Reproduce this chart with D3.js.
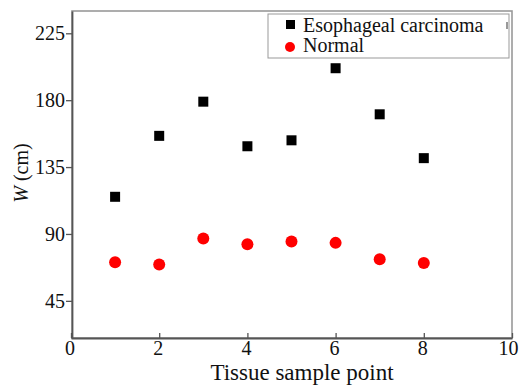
<!DOCTYPE html>
<html><head><meta charset="utf-8">
<script src="https://cdn.jsdelivr.net/npm/d3@7"></script>
<style>body{margin:0;background:#fff}</style>
</head><body><svg id="c" width="519" height="385"></svg>
<script>
const samplePoints = [1, 2, 3, 4, 5, 6, 7, 8];
const carcinoma = [115, 156, 179, 149, 153, 201.5, 170.5, 141];
const normal = [71, 69.5, 87, 83, 85, 84, 73, 70.5];
const xTicks = [0, 2, 4, 6, 8, 10];
const yTicks = [45, 90, 135, 180, 225];
const seriesNames = ["Esophageal carcinoma", "Normal"];

const FONT = "'Liberation Serif'";
const svg = d3.select("#c");
const L = 72, R = 512, T = 11, B = 338;
const x = d3.scaleLinear().domain([0, 10]).range([71, 512]);
const y = d3.scaleLinear().domain([20, 240]).range([B, T]);

function styleText(sel, size) {
  sel.attr("font-family", null).style("font-family", FONT).style("font-size", size + "px").style("fill", "#111");
  return sel;
}

// frame
svg.append("rect").attr("x", L).attr("y", T).attr("width", R - L).attr("height", B - T)
  .attr("fill", "none").attr("stroke", "#999").attr("stroke-width", 1.6);

// x axis (ticks inward)
const gx = svg.append("g").attr("transform", `translate(0,${B})`)
  .call(d3.axisBottom(x).tickValues(xTicks).tickSize(-5).tickPadding(3).tickSizeOuter(0));
gx.attr("font-family", null).attr("font-size", null);
gx.select(".domain").attr("stroke", "#555").attr("stroke-width", 1.8);
gx.selectAll(".tick line").attr("stroke", "#555").attr("stroke-width", 1.3);
styleText(gx.selectAll("text"), 20).attr("dx", d => d === 10 ? -4 : -1.5);

// y axis (ticks outward)
const gy = svg.append("g").attr("transform", `translate(${L},0)`)
  .call(d3.axisLeft(y).tickValues(yTicks).tickSize(6).tickPadding(1).tickSizeOuter(0));
gy.attr("font-family", null).attr("font-size", null);
gy.select(".domain").attr("stroke", "#555").attr("stroke-width", 1.8);
gy.selectAll(".tick line").attr("stroke", "#555").attr("stroke-width", 1.3);
styleText(gy.selectAll("text"), 20);

// titles
styleText(svg.append("text").attr("x", 302).attr("y", 380).attr("text-anchor", "middle")
  .text("Tissue sample point"), 23);
const yt = svg.append("text").attr("transform", "translate(28,173) rotate(-90)")
  .attr("text-anchor", "middle");
styleText(yt, 20);
yt.append("tspan").style("font-style", "italic").text("W");
yt.append("tspan").text(" (cm)");

// data
svg.append("g").selectAll("rect").data(samplePoints.map((p, i) => [p, carcinoma[i]])).join("rect")
  .attr("x", d => x(d[0]) - 5).attr("y", d => y(d[1]) - 5).attr("width", 10).attr("height", 10)
  .attr("fill", "#000");
svg.append("g").selectAll("circle").data(samplePoints.map((p, i) => [p, normal[i]])).join("circle")
  .attr("cx", d => x(d[0])).attr("cy", d => y(d[1])).attr("r", 6).attr("fill", "#f00");

// legend
const lg = svg.append("g");
lg.append("rect").attr("x", 268).attr("y", 14).attr("width", 241).attr("height", 44)
  .attr("fill", "#fff").attr("stroke", "#999").attr("stroke-width", 1);
lg.append("rect").attr("x", 286).attr("y", 20).attr("width", 9).attr("height", 9).attr("fill", "#000");
lg.append("circle").attr("cx", 290).attr("cy", 47).attr("r", 5).attr("fill", "#f00");
styleText(lg.append("text").attr("x", 303).attr("y", 32).text(seriesNames[0]), 20);
styleText(lg.append("text").attr("x", 303).attr("y", 52).text(seriesNames[1]), 20);
lg.append("line").attr("x1", 507).attr("x2", 507).attr("y1", 22).attr("y2", 29).attr("stroke", "#777").attr("stroke-width", 1.5);
</script></body></html>
